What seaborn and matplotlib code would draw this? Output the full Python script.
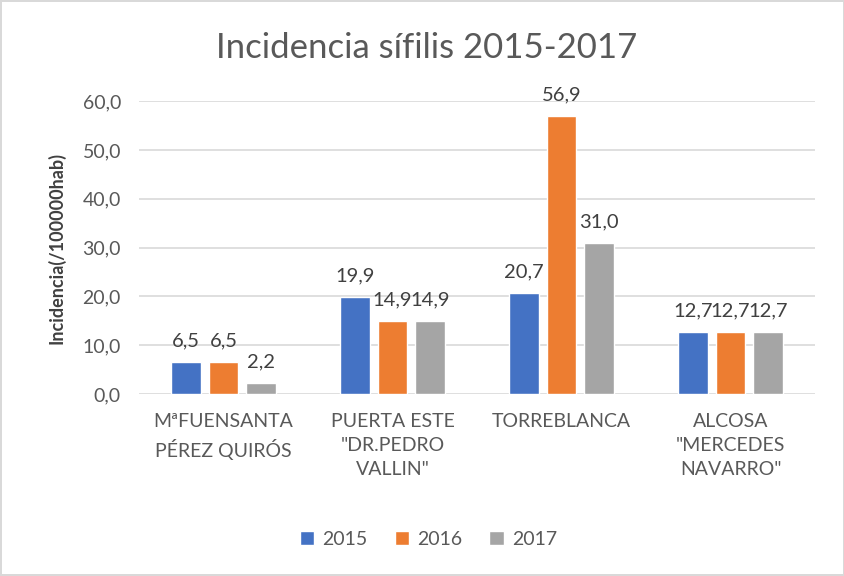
import pandas as pd
import matplotlib.pyplot as plt
import seaborn as sns

# Datos
centros = ["MªFUENSANTA\nPÉREZ QUIRÓS", "PUERTA ESTE\n\"DR.PEDRO\nVALLIN\"",
           "TORREBLANCA", "ALCOSA\n\"MERCEDES\nNAVARRO\""]
anios = ["2015", "2016", "2017"]
v2015 = [6.5, 19.9, 20.7, 12.7]
v2016 = [6.5, 14.9, 56.9, 12.7]
v2017 = [2.2, 14.9, 31.0, 12.7]

df = pd.DataFrame({
    "centro": centros * 3,
    "anio": [a for a in anios for _ in centros],
    "valor": v2015 + v2016 + v2017,
})

sns.set_style("white")
plt.rcParams["font.family"] = ["Lato", "DejaVu Sans"]

gris = "#595959"
colores = {"2015": "#4472C4", "2016": "#ED7D31", "2017": "#A5A5A5"}

fig = plt.figure(figsize=(8.45, 5.76), dpi=100)
fig.patch.set_edgecolor("#d9d9d9")
fig.patch.set_linewidth(1.5)
ax = fig.add_axes([0.1645, 0.316, 0.80, 0.5085])

sns.barplot(data=df, x="centro", y="valor", hue="anio", palette=colores,
            width=0.67, gap=0.21, saturation=1, ax=ax, legend=True)

for cont in ax.containers:
    ax.bar_label(cont, labels=[f"{b.get_height():.1f}".replace(".", ",") for b in cont],
                 padding=9, fontsize=14.5, color="#404040", clip_on=False)

ax.set_ylim(0, 60)
ax.set_yticks(range(0, 61, 10))
ax.set_yticklabels([f"{v},0" for v in range(0, 61, 10)], fontsize=14, color=gris)
ax.tick_params(axis="x", labelsize=14, labelcolor=gris, length=0, pad=14)
for t in ax.get_xticklabels():
    t.set_linespacing(1.5)
ax.tick_params(axis="y", length=0, pad=13)
ax.yaxis.grid(True, color="#d9d9d9", linewidth=1.2)
ax.set_axisbelow(True)
for s in ax.spines.values():
    s.set_visible(False)

ax.set_xlabel("")
ax.set_ylabel("Incidencia(/100000hab)", fontsize=13, fontweight="bold", color="#404040", labelpad=12)
fig.suptitle("Incidencia sífilis 2015-2017", fontsize=25, color=gris, x=0.505, y=0.945)

h, l = ax.get_legend_handles_labels()
ax.legend_.remove()
fig.legend(h, l, loc="lower center", bbox_to_anchor=(0.507, 0.018), ncol=3, frameon=False,
           fontsize=14, labelcolor=gris, handlelength=0.75, handleheight=0.75,
           handletextpad=0.4, columnspacing=1.4)

fig.savefig("out.png", dpi=100, edgecolor=fig.get_edgecolor())
